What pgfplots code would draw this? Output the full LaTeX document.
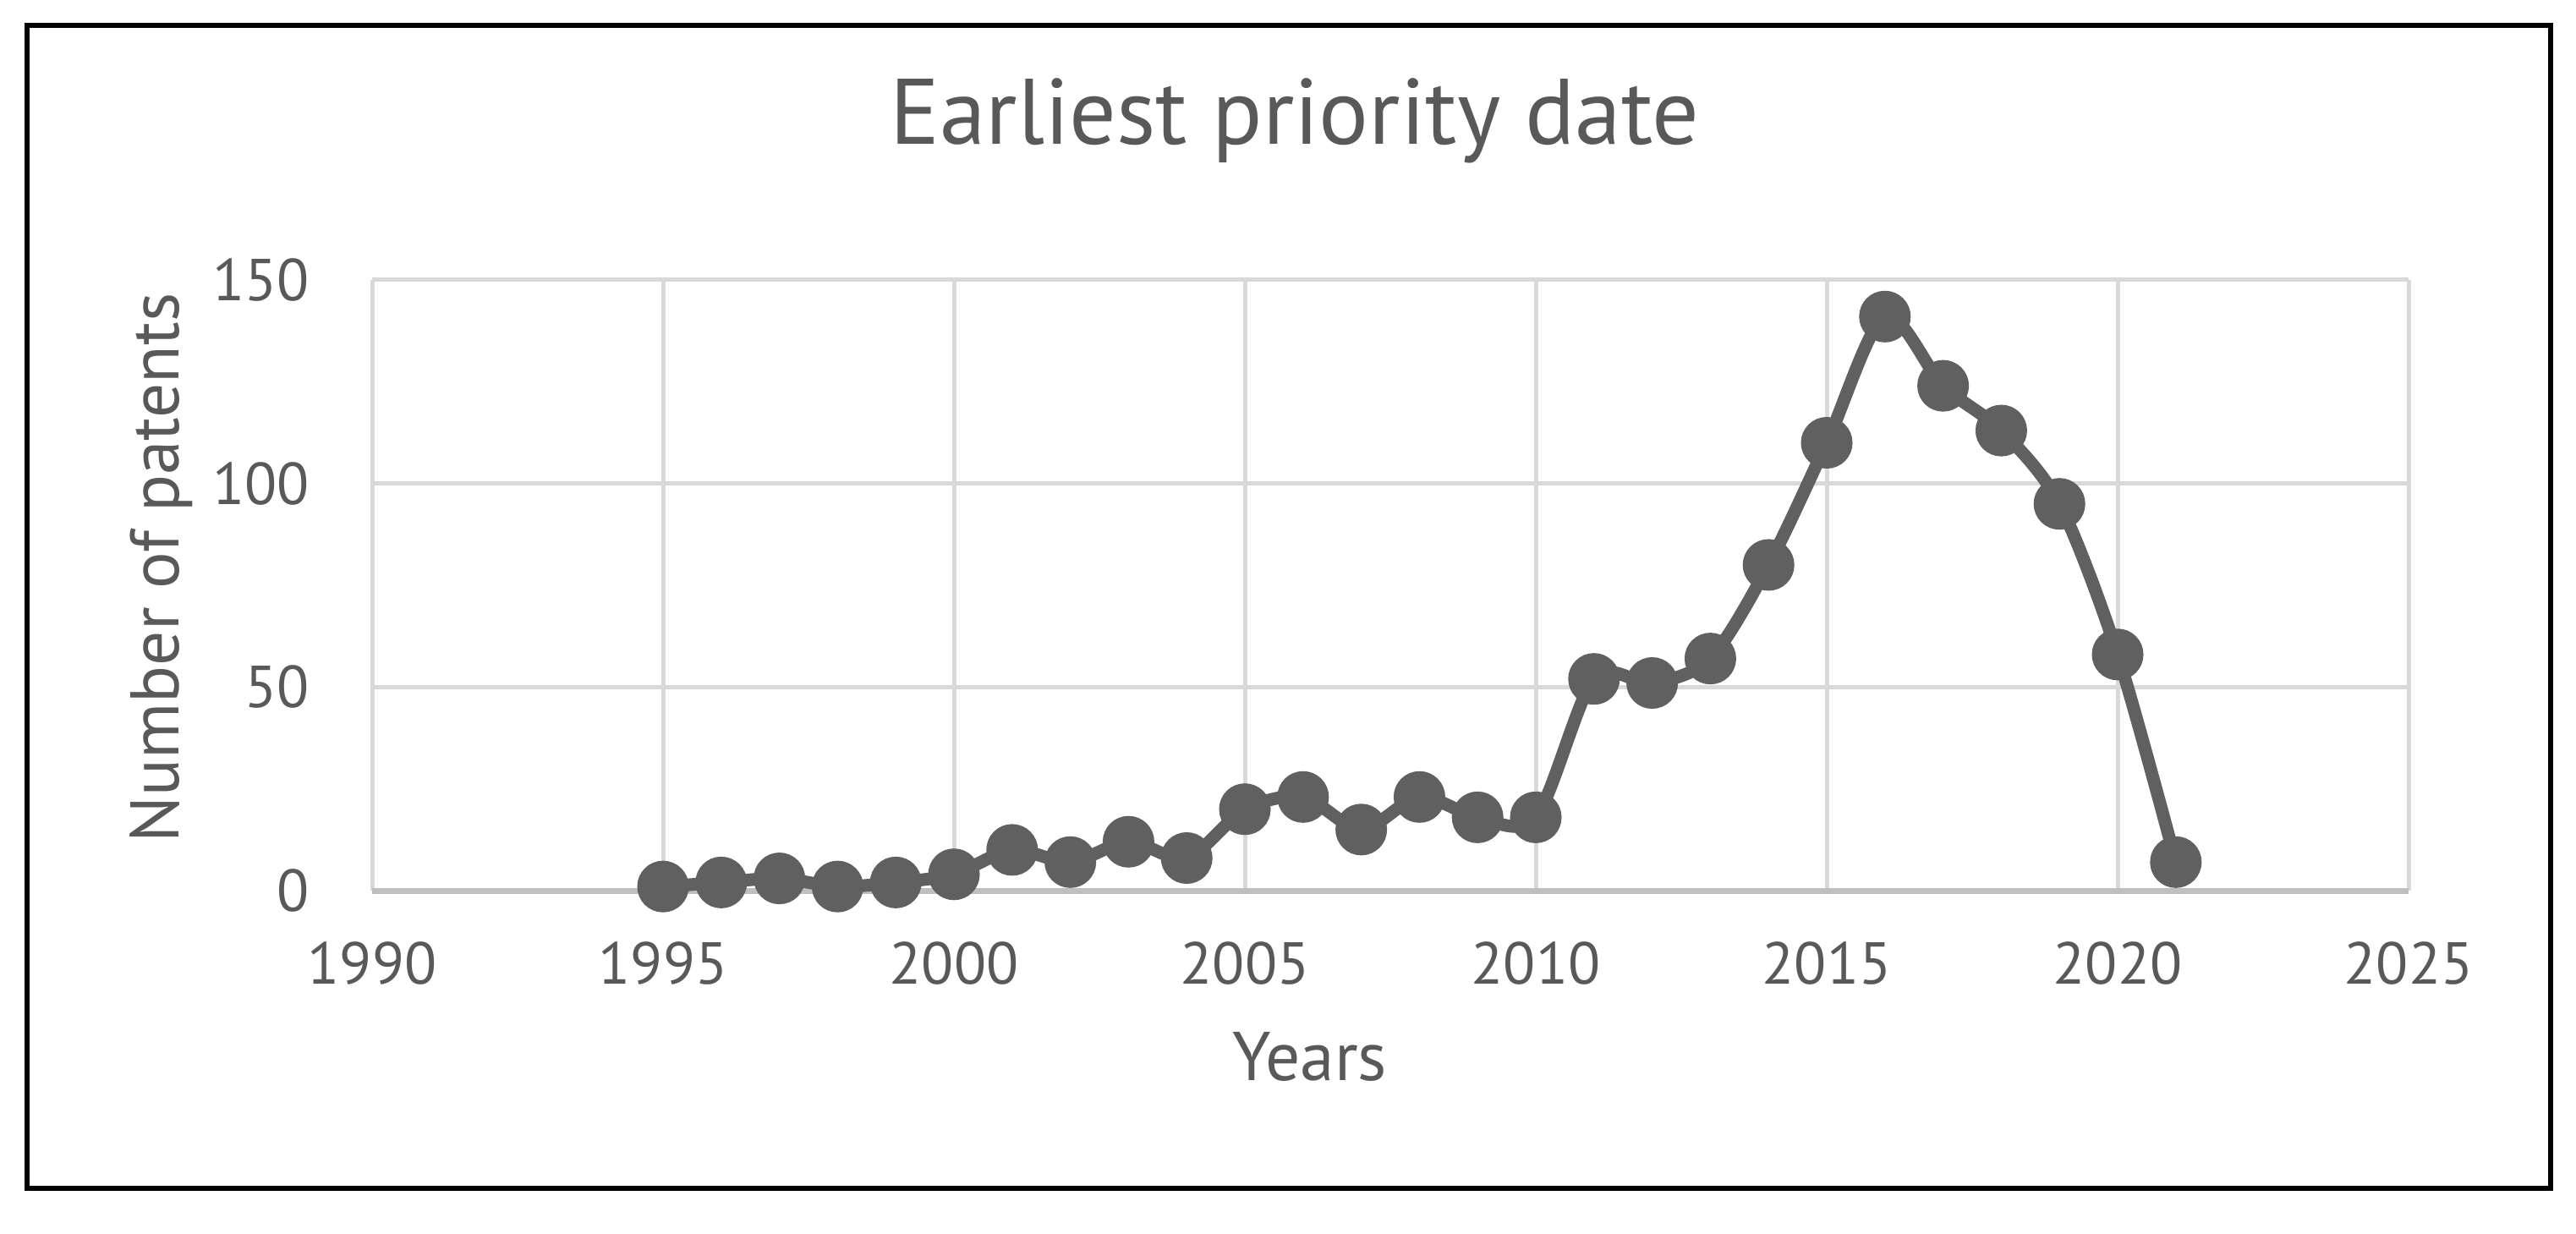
\documentclass[border=0pt]{standalone}
\usepackage{pgfplots}
\pgfplotsset{compat=1.18}
\usepackage{fontspec}
\setmainfont{PT Sans}
\definecolor{txt}{HTML}{595959}
\definecolor{ln}{HTML}{5F605F}
\definecolor{grd}{HTML}{D9D9D9}
\definecolor{axl}{HTML}{BFBFBF}
\begin{document}
\begin{tikzpicture}
\path[use as bounding box] (0,0) rectangle (609.2pt,291.6pt);
\fill[white] (0,0) rectangle (609.2pt,291.6pt);
\draw[black, line width=1.2pt] (6.4pt,10.6pt) rectangle (603.2pt,285.6pt);
\begin{axis}[
  at={(88pt,81pt)}, anchor=south west,
  scale only axis, width=481.6pt, height=144.4pt,
  xmin=1990, xmax=2025, ymin=0, ymax=150,
  xtick={1990,1995,...,2025}, ytick={0,50,100,150},
  grid=major, major grid style={grd, line width=1pt},
  axis line style={draw=none},
  major tick length=0pt,
  extra y ticks={0}, extra y tick labels={},
  extra y tick style={grid=major, major grid style={axl, line width=1.4pt}},
  /pgf/number format/1000 sep={},
  /pgf/number format/assume math mode=true,
  tick label style={font=\fontsize{14}{16}\selectfont, text=txt},
  x tick label style={anchor=north, inner sep=0pt, yshift=-12pt},
  y tick label style={anchor=east, inner sep=0pt, xshift=-14.6pt},
  title={Earliest priority date},
  title style={at={(rel axis cs:0.453,1.181)}, anchor=base, inner sep=0pt, font=\fontsize{22}{26}\selectfont, text=txt},
  xlabel={Years},
  xlabel style={at={(rel axis cs:0.4605,-0.311)}, anchor=base, inner sep=0pt, font=\fontsize{16.3}{19}\selectfont, text=txt},
  ylabel={Number of patents},
  ylabel style={at={(rel axis cs:-0.0947,0.5285)}, anchor=base, inner sep=0pt, rotate=0, font=\fontsize{16.3}{19}\selectfont, text=txt},
  clip=false,
]
\addplot[ln, line width=3pt, smooth, mark=*, mark size=4.6pt, mark options={fill=ln, draw=none}] coordinates {
(1995,1) (1996,2) (1997,3) (1998,1) (1999,2) (2000,4) (2001,10) (2002,7) (2003,12) (2004,8)
(2005,20) (2006,23) (2007,15) (2008,23) (2009,18) (2010,18) (2011,52) (2012,51) (2013,57)
(2014,80) (2015,110) (2016,141) (2017,124) (2018,113) (2019,95) (2020,58) (2021,7)
};
\end{axis}
\end{tikzpicture}
\end{document}
